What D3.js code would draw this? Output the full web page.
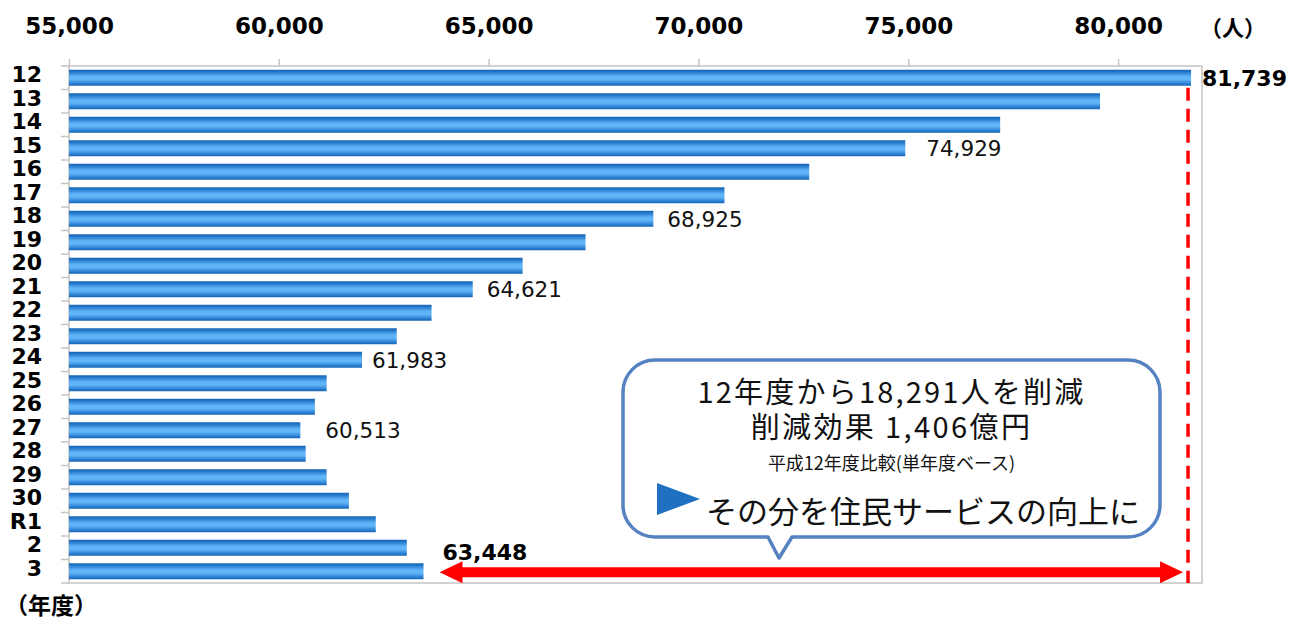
<!DOCTYPE html>
<html>
<head>
<meta charset="utf-8">
<script src="https://cdn.jsdelivr.net/npm/d3@7"></script>
<style>
body { margin: 0; background: #fff; }
svg { display: block; }
.num { font-family: "DejaVu Sans", Verdana, sans-serif; }
.jp { font-family: "Noto Sans CJK JP", sans-serif; }
</style>
</head>
<body>
<svg id="chart" width="1290" height="620"></svg>
<script>
// 職員数 (人) by fiscal year
var years = ["12", "13", "14", "15", "16", "17", "18", "19", "20", "21", "22",
             "23", "24", "25", "26", "27", "28", "29", "30", "R1", "2", "3"];
var staff = [81739, 79570, 77190, 74929, 72640, 70620, 68925, 67310, 65810, 64621, 63640,
             62810, 61983, 61140, 60860, 60513, 60640, 61140, 61670, 62310, 63050, 63448];
var xTicks = [55000, 60000, 65000, 70000, 75000, 80000];

// which bars get a plain value label, and the gap after the bar end
var labelYears = ["15", "18", "21", "24", "27"];
var labelGap = [21, 14, 14, 10, 25];

var calloutLines = ["12年度から18,291人を削減", "削減効果 1,406億円", "平成12年度比較(単年度ベース)"];
var calloutLast = "その分を住民サービスの向上に";

var svg = d3.select("#chart");
var plotL = 69, plotR = 1202, plotT = 66, plotB = 583;

var x = d3.scaleLinear().domain([55000, 82000]).range([plotL, plotR]);
var y = d3.scaleBand().domain(years).range([plotT, plotB]).paddingInner(0.32).paddingOuter(0.16);

var defs = svg.append("defs");
var grad = defs.append("linearGradient").attr("id", "barGrad")
    .attr("x1", 0).attr("y1", 0).attr("x2", 0).attr("y2", 1);
[[0, "#1462b3"], [0.14, "#2479cc"], [0.42, "#5fb3f6"], [0.6, "#62b6f8"], [0.86, "#2b82d4"], [1, "#1462b3"]]
    .forEach(function (s) { grad.append("stop").attr("offset", s[0]).attr("stop-color", s[1]); });

// frame
var frame = "#c4c4c4";
svg.append("rect").attr("x", plotL).attr("y", plotT).attr("width", plotR - plotL).attr("height", plotB - plotT)
    .attr("fill", "none").attr("stroke", frame).attr("stroke-width", 1.5);

// top axis
var xAxis = svg.append("g").attr("transform", "translate(0," + plotT + ")")
    .call(d3.axisTop(x).tickValues(xTicks).tickFormat(d3.format(",")).tickSize(7));
xAxis.select(".domain").remove();
xAxis.selectAll("line").attr("stroke", frame).attr("stroke-width", 1.5);
xAxis.selectAll("text").attr("class", "num").attr("y", -32).attr("dy", 0)
    .attr("font-size", 23).attr("font-weight", "bold").attr("fill", "#000");

svg.append("text").attr("class", "jp").attr("x", 1200).attr("y", 36)
    .attr("font-size", 22).attr("font-weight", "bold").text("（人）");

// left axis: labels only, ticks at category boundaries
var yAxis = svg.append("g").attr("transform", "translate(" + plotL + ",0)")
    .call(d3.axisLeft(y).tickSize(0).tickPadding(27));
yAxis.select(".domain").remove();
yAxis.selectAll("text").attr("class", "num").attr("dy", "0.2em")
    .attr("font-size", 22).attr("font-weight", "bold").attr("fill", "#000");

var step = y.step();
svg.append("g").selectAll("line").data(d3.range(years.length + 1)).enter().append("line")
    .attr("x1", plotL - 8).attr("x2", plotL)
    .attr("y1", function (i) { return plotT + i * step; })
    .attr("y2", function (i) { return plotT + i * step; })
    .attr("stroke", frame).attr("stroke-width", 1.5);

svg.append("text").attr("class", "jp").attr("x", 5).attr("y", 614)
    .attr("font-size", 23).attr("font-weight", "bold").text("（年度）");

// bars
svg.append("g").selectAll("rect").data(years).enter().append("rect")
    .attr("x", plotL)
    .attr("y", function (d) { return y(d); })
    .attr("width", function (d, i) { return x(staff[i]) - plotL; })
    .attr("height", y.bandwidth())
    .attr("fill", "url(#barGrad)");

// value labels
var fmt = d3.format(",");
svg.append("g").selectAll("text").data(labelYears).enter().append("text")
    .attr("class", "num")
    .attr("x", function (d, i) { return x(staff[years.indexOf(d)]) + labelGap[i]; })
    .attr("y", function (d) { return y(d) + y.bandwidth() / 2; })
    .attr("dy", "0.37em").attr("font-size", 21.5).attr("fill", "#111")
    .text(function (d) { return fmt(staff[years.indexOf(d)]); });

var first = staff[0], last = staff[staff.length - 1];
var firstY = years[0], lastY = years[years.length - 1];
svg.append("text").attr("class", "num")
    .attr("x", x(first) + 11).attr("y", y(firstY) + y.bandwidth() / 2).attr("dy", "0.37em")
    .attr("font-size", 22).attr("font-weight", "bold").text(fmt(first));
svg.append("text").attr("class", "num")
    .attr("x", x(last) + 19).attr("y", y(lastY) + y.bandwidth() / 2 - 19).attr("dy", "0.37em")
    .attr("font-size", 22).attr("font-weight", "bold").text(fmt(last));

// red dashed reference line at the 12年度 level
svg.append("line")
    .attr("x1", x(first) - 3).attr("x2", x(first) - 3)
    .attr("y1", y(firstY) + y.bandwidth() + 2).attr("y2", plotB)
    .attr("stroke", "#ff0000").attr("stroke-width", 3.5).attr("stroke-dasharray", "13,8");

// red double arrow
var ay = y(lastY) + y.bandwidth() / 2 + 1;
var ax1 = x(last) + 16, ax2 = x(first) - 8, head = 23, hh = 11, sh = 5;
svg.append("path")
    .attr("d", "M" + ax1 + "," + ay +
        "L" + (ax1 + head) + "," + (ay - hh) + "L" + (ax1 + head) + "," + (ay - sh) +
        "L" + (ax2 - head) + "," + (ay - sh) + "L" + (ax2 - head) + "," + (ay - hh) +
        "L" + ax2 + "," + ay +
        "L" + (ax2 - head) + "," + (ay + hh) + "L" + (ax2 - head) + "," + (ay + sh) +
        "L" + (ax1 + head) + "," + (ay + sh) + "L" + (ax1 + head) + "," + (ay + hh) + "Z")
    .attr("fill", "#ff0000");

// callout
var bx0 = 623, bx1 = 1160, by0 = 360, by1 = 537, r = 32, tx0 = 768, tx1 = 792, tipX = 779, tipY = 558;
var p = d3.path();
p.moveTo(bx0 + r, by0);
p.lineTo(bx1 - r, by0);
p.arcTo(bx1, by0, bx1, by0 + r, r);
p.lineTo(bx1, by1 - r);
p.arcTo(bx1, by1, bx1 - r, by1, r);
p.lineTo(tx1, by1);
p.lineTo(tipX, tipY);
p.lineTo(tx0, by1);
p.lineTo(bx0 + r, by1);
p.arcTo(bx0, by1, bx0, by1 - r, r);
p.lineTo(bx0, by0 + r);
p.arcTo(bx0, by0, bx0 + r, by0, r);
p.closePath();
svg.append("path").attr("d", p.toString()).attr("fill", "#fff")
    .attr("stroke", "#5582c0").attr("stroke-width", 3.5).attr("stroke-linejoin", "round");

var cx = (bx0 + bx1) / 2;
var cl = svg.append("g").attr("class", "jp").attr("text-anchor", "middle").attr("fill", "#111");
cl.append("text").attr("x", cx).attr("y", 403).attr("font-size", 29).attr("letter-spacing", 2.2).text(calloutLines[0]);
cl.append("text").attr("x", cx).attr("y", 438).attr("font-size", 29).attr("letter-spacing", 2.4).text(calloutLines[1]);
cl.append("text").attr("x", cx).attr("y", 470).attr("font-size", 18).text(calloutLines[2]);

svg.append("path").attr("d", "M657,483L700,499L657,515Z").attr("fill", "#1f70c1");
svg.append("text").attr("class", "jp").attr("x", 706).attr("y", 523).attr("font-size", 31)
    .attr("fill", "#111").text(calloutLast);
</script>
</body>
</html>
